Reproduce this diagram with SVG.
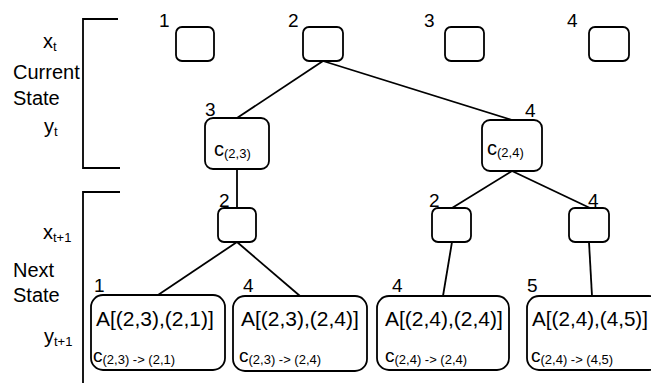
<svg xmlns="http://www.w3.org/2000/svg" width="651" height="383" viewBox="0 0 651 383">
  <style>
    text { font-family: "Liberation Sans", Arial, sans-serif; fill: #000; }
    .lbl { font-size: 19px; }
    .side { font-size: 20px; }
    .sub { font-size: 13px; }
    .big { font-size: 21px; }
    .c { font-size: 20px; }
    .cs { font-size: 19px; }
    .box { fill: #fff; stroke: #000; stroke-width: 1.8; }
    .edge { stroke: #000; stroke-width: 1.8; fill: none; }
  </style>
  <rect width="651" height="383" fill="#fff"/>

  <!-- state brackets and row captions -->
  <g id="legend">
    <path class="edge" d="M118 19 H83 V168 H120"/>
    <path class="edge" d="M120 192 H83 V383"/>
    <text class="side" x="43" y="48">x<tspan class="sub" dy="3">t</tspan></text>
    <text class="side" x="13" y="79">Current</text>
    <text class="side" x="13" y="105">State</text>
    <text class="side" x="44" y="133">y<tspan class="sub" dy="3">t</tspan></text>
    <text class="side" x="43" y="239">x<tspan class="sub" dy="3">t+1</tspan></text>
    <text class="side" x="13" y="277">Next</text>
    <text class="side" x="13" y="302">State</text>
    <text class="side" x="44" y="343">y<tspan class="sub" dy="3">t+1</tspan></text>
  </g>

  <!-- connectors -->
  <g id="edges">
    <line class="edge" x1="323" y1="61" x2="237" y2="118"/>
    <line class="edge" x1="323" y1="61" x2="512" y2="120"/>
    <line class="edge" x1="237" y1="169" x2="237" y2="208"/>
    <line class="edge" x1="512" y1="171" x2="452" y2="208"/>
    <line class="edge" x1="512" y1="171" x2="590" y2="208"/>
    <line class="edge" x1="237" y1="242" x2="158" y2="295"/>
    <line class="edge" x1="237" y1="242" x2="300" y2="296"/>
    <line class="edge" x1="452" y1="242" x2="443" y2="296"/>
    <line class="edge" x1="589" y1="242" x2="592" y2="296"/>
  </g>

  <!-- current state x_t -->
  <g id="x1"><rect class="box" x="176" y="27" width="38" height="34" rx="6"/><text class="lbl" x="159" y="27">1</text></g>
  <g id="x2"><rect class="box" x="303" y="27" width="40" height="34" rx="6"/><text class="lbl" x="288" y="27">2</text></g>
  <g id="x3"><rect class="box" x="445" y="27" width="39" height="34" rx="6"/><text class="lbl" x="424" y="27">3</text></g>
  <g id="x4"><rect class="box" x="589" y="27" width="40" height="34" rx="6"/><text class="lbl" x="567" y="27">4</text></g>

  <!-- current state y_t -->
  <g id="y3">
    <rect class="box" x="205" y="118" width="64" height="51" rx="8"/>
    <text class="lbl" x="205" y="116">3</text>
    <text class="c" x="214" y="156">c<tspan class="sub" dy="2">(2,3)</tspan></text>
  </g>
  <g id="y4">
    <rect class="box" x="482" y="120" width="60" height="51" rx="8"/>
    <text class="lbl" x="525" y="117">4</text>
    <text class="c" x="487" y="155">c<tspan class="sub" dy="2">(2,4)</tspan></text>
  </g>

  <!-- next state x_t+1 -->
  <g id="nx2a"><rect class="box" x="218" y="208" width="38" height="34" rx="6"/><text class="lbl" x="219" y="207">2</text></g>
  <g id="nx2b"><rect class="box" x="432" y="208" width="39" height="34" rx="6"/><text class="lbl" x="429" y="207">2</text></g>
  <g id="nx4"><rect class="box" x="569" y="208" width="40" height="34" rx="6"/><text class="lbl" x="588" y="207">4</text></g>

  <!-- next state y_t+1 -->
  <g id="ny1">
    <rect class="box" x="91" y="295" width="134" height="75" rx="12"/>
    <text class="lbl" x="94" y="292">1</text>
    <text class="big" x="96" y="326">A[(2,3),(2,1)]</text>
    <text class="cs" x="93" y="362">c<tspan class="sub" dy="2">(2,3) -&gt; (2,1)</tspan></text>
  </g>
  <g id="ny2">
    <rect class="box" x="233" y="296" width="134" height="75" rx="12"/>
    <text class="lbl" x="243" y="292">4</text>
    <text class="big" x="241" y="326">A[(2,3),(2,4)]</text>
    <text class="cs" x="239" y="362">c<tspan class="sub" dy="2">(2,3) -&gt; (2,4)</tspan></text>
  </g>
  <g id="ny3">
    <rect class="box" x="377" y="296" width="132" height="74" rx="12"/>
    <text class="lbl" x="392" y="292">4</text>
    <text class="big" x="385" y="326">A[(2,4),(2,4)]</text>
    <text class="cs" x="385" y="362">c<tspan class="sub" dy="2">(2,4) -&gt; (2,4)</tspan></text>
  </g>
  <g id="ny4">
    <rect class="box" x="527" y="296" width="134" height="74" rx="12"/>
    <text class="lbl" x="527" y="292">5</text>
    <text class="big" x="532" y="326" textLength="116" lengthAdjust="spacingAndGlyphs">A[(2,4),(4,5)]</text>
    <text class="cs" x="531" y="362">c<tspan class="sub" dy="2">(2,4) -&gt; (4,5)</tspan></text>
  </g>
</svg>
